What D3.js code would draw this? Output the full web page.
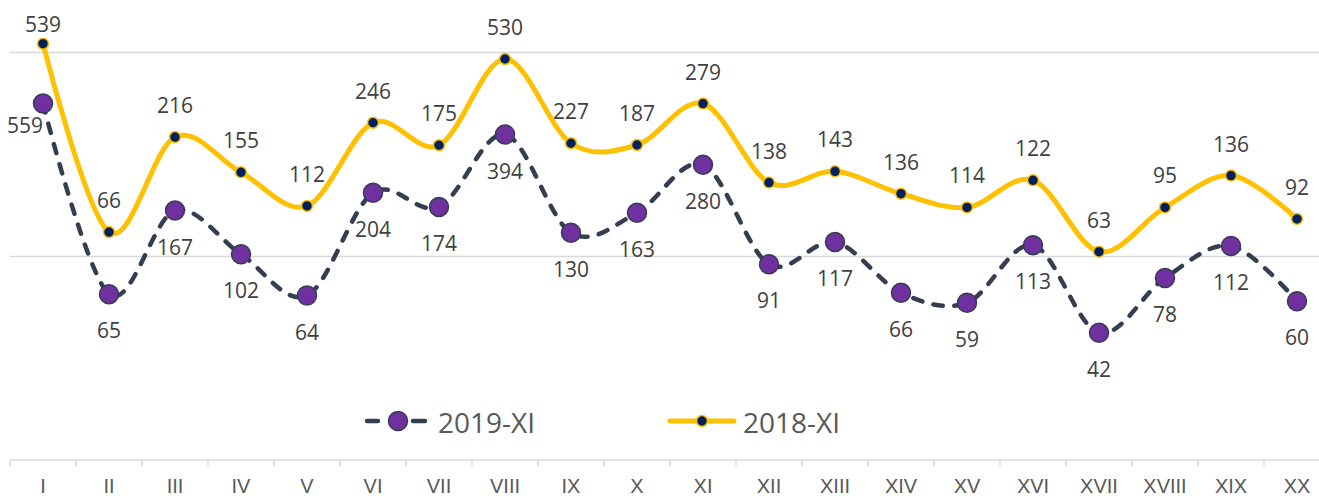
<!DOCTYPE html>
<html>
<head>
<meta charset="utf-8">
<script src="https://cdn.jsdelivr.net/npm/d3@7"></script>
<style>
  html, body { margin: 0; padding: 0; background: #fff; }
  svg { display: block; font-family: "Open Sans", "Noto Sans", sans-serif; }
</style>
</head>
<body>
<svg id="chart" width="1319" height="500"></svg>
<script>
const categories = ["I","II","III","IV","V","VI","VII","VIII","IX","X","XI","XII","XIII","XIV","XV","XVI","XVII","XVIII","XIX","XX"];
const values2019 = [559,65,167,102,64,204,174,394,130,163,280,91,117,66,59,113,42,78,112,60];
const values2018 = [539,66,216,155,112,246,175,530,227,187,279,138,143,136,114,122,63,95,136,92];
const seriesNames = ["2019-XI","2018-XI"];
const gridValues = [100, 1000];

const svg = d3.select("#chart");
const W = 1319, H = 500;

// stacked line chart on a logarithmic axis
const x = d3.scaleBand().domain(categories).range([10, 10 + 66 * categories.length]).padding(0);
const y = d3.scaleLog().domain([10, 1000]).range([460, 52]);
const cx = c => x(c) + x.bandwidth() / 2;

const stack2018 = values2018.map((v, i) => v + values2019[i]);

// gridlines
svg.append("g")
  .attr("transform", "translate(10,0)")
  .call(d3.axisLeft(y).tickValues(gridValues).tickSize(-(W - 10)).tickFormat(""))
  .call(g => g.select(".domain").remove())
  .call(g => g.selectAll("line").attr("stroke", "#d9d9d9").attr("stroke-width", 1.5));

// x axis
const xAxis = svg.append("g")
  .attr("transform", "translate(0,459.5)")
  .call(d3.axisBottom(x).tickSize(0).tickPadding(19))
  .call(g => g.select(".domain").attr("stroke", "#d9d9d9").attr("stroke-width", 1.5))
  .call(g => g.selectAll("text").attr("fill", "#595959").attr("font-size", 20));

xAxis.selectAll(".bound")
  .data(categories)
  .enter().append("line")
  .attr("x1", d => x(d)).attr("x2", d => x(d))
  .attr("y1", 0).attr("y2", 7)
  .attr("stroke", "#d9d9d9").attr("stroke-width", 1.5);

const curve = d3.curveCardinal.tension(0);

// 2019 line
const lineGen = d3.line().x((d, i) => cx(categories[i])).y(d => y(d)).curve(curve);
svg.append("path")
  .datum(values2019)
  .attr("d", lineGen)
  .attr("fill", "none")
  .attr("stroke", "#333F50")
  .attr("stroke-width", 4.5)
  .attr("stroke-linecap", "round")
  .attr("stroke-dasharray", "9.5,11.5");

// 2018 line (stacked)
svg.append("path")
  .datum(stack2018)
  .attr("d", lineGen)
  .attr("fill", "none")
  .attr("stroke", "#FFC000")
  .attr("stroke-width", 5);

// markers
svg.append("g").selectAll("circle")
  .data(values2019)
  .enter().append("circle")
  .attr("cx", (d, i) => cx(categories[i]))
  .attr("cy", d => y(d))
  .attr("r", 9.5)
  .attr("fill", "#7030A0")
  .attr("stroke", "#333F50")
  .attr("stroke-width", 1.5);

svg.append("g").selectAll("circle")
  .data(stack2018)
  .enter().append("circle")
  .attr("cx", (d, i) => cx(categories[i]))
  .attr("cy", d => y(d))
  .attr("r", 5.5)
  .attr("fill", "#002060")
  .attr("stroke", "#FFC000")
  .attr("stroke-width", 1.5);

// data labels
svg.append("g").selectAll("text")
  .data(values2019)
  .enter().append("text")
  .attr("x", (d, i) => cx(categories[i]))
  .attr("y", d => y(d) + 44)
  .attr("text-anchor", (d, i) => i === 0 ? "end" : "middle")
  .attr("dy", (d, i) => i === 0 ? -15 : 0)
  .attr("font-size", 21)
  .attr("fill", "#404040")
  .text(d => d);

svg.append("g").selectAll("text")
  .data(values2018)
  .enter().append("text")
  .attr("x", (d, i) => cx(categories[i]))
  .attr("y", (d, i) => Math.max(y(stack2018[i]) - 24, 32))
  .attr("text-anchor", "middle")
  .attr("font-size", 21)
  .attr("fill", "#404040")
  .text(d => d);

// legend
const lg = svg.append("g");
const l1 = lg.append("g").attr("transform", "translate(365,421)");
l1.append("line").attr("x1", 2).attr("x2", 13).attr("y1", 0).attr("y2", 0)
  .attr("stroke", "#333F50").attr("stroke-width", 4.5).attr("stroke-linecap", "round");
l1.append("line").attr("x1", 48).attr("x2", 60).attr("y1", 0).attr("y2", 0)
  .attr("stroke", "#333F50").attr("stroke-width", 4.5).attr("stroke-linecap", "round");
l1.append("circle").attr("cx", 33).attr("cy", 0).attr("r", 9.5)
  .attr("fill", "#7030A0").attr("stroke", "#333F50").attr("stroke-width", 1.5);
l1.append("text").attr("x", 73).attr("y", 12).attr("font-size", 28).attr("fill", "#595959").text(seriesNames[0]);

const l2 = lg.append("g").attr("transform", "translate(668,421)");
l2.append("line").attr("x1", 2).attr("x2", 66).attr("y1", 0).attr("y2", 0)
  .attr("stroke", "#FFC000").attr("stroke-width", 5).attr("stroke-linecap", "round");
l2.append("circle").attr("cx", 34).attr("cy", 0).attr("r", 5.5)
  .attr("fill", "#002060").attr("stroke", "#FFC000").attr("stroke-width", 1.5);
l2.append("text").attr("x", 75).attr("y", 12).attr("font-size", 28).attr("fill", "#595959").text(seriesNames[1]);
</script>
</body>
</html>
